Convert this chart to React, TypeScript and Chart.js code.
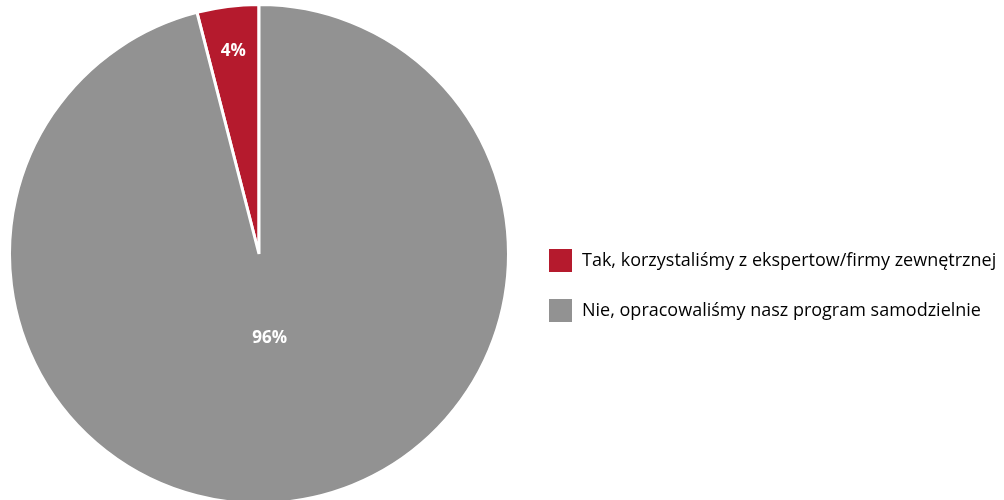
import React, { useEffect, useRef } from "react";
import { Chart, registerables } from "chart.js";

Chart.register(...registerables);

const categories = [
  "Tak, korzystaliśmy z ekspertow/firmy zewnętrznej",
  "Nie, opracowaliśmy nasz program samodzielnie",
];
const values = [4, 96];
const valueLabels = ["4%", "96%"];
const colors = ["#B51A2D", "#929292"];
const labelRadiusFractions = [0.82, 0.34];

const FONT = "'Open Sans', 'DejaVu Sans', sans-serif";

const labelPlugin = {
  id: "sliceLabels",
  afterDatasetsDraw(chart: any) {
    const ctx = chart.ctx;
    const meta = chart.getDatasetMeta(0);
    ctx.save();
    ctx.fillStyle = "#ffffff";
    ctx.font = `bold 17px ${FONT}`;
    ctx.textAlign = "center";
    ctx.textBaseline = "middle";
    meta.data.forEach((arc: any, i: number) => {
      const { x, y, startAngle, endAngle, outerRadius } = arc.getProps(
        ["x", "y", "startAngle", "endAngle", "outerRadius"],
        true
      );
      const mid = (startAngle + endAngle) / 2;
      const r = outerRadius * labelRadiusFractions[i];
      ctx.fillText(valueLabels[i], x + Math.cos(mid) * r, y + Math.sin(mid) * r);
    });
    ctx.restore();
  },
};

const legendPlugin = {
  id: "sideLegend",
  afterDraw(chart: any) {
    const ctx = chart.ctx;
    const boxX = 549;
    const boxSize = 23;
    const rowTops = [249, 299];
    ctx.save();
    ctx.font = `18px ${FONT}`;
    ctx.textBaseline = "middle";
    ctx.textAlign = "left";
    categories.forEach((c, i) => {
      ctx.fillStyle = colors[i];
      ctx.fillRect(boxX, rowTops[i], boxSize, boxSize);
      ctx.fillStyle = "#000000";
      ctx.fillText(c, boxX + boxSize + 10, rowTops[i] + boxSize / 2);
    });
    ctx.restore();
  },
};

export default function App() {
  const ref = useRef<HTMLCanvasElement | null>(null);
  useEffect(() => {
    if (!ref.current) return;
    const chart = new Chart(ref.current, {
      type: "pie",
      data: {
        labels: categories,
        datasets: [
          {
            data: values,
            backgroundColor: colors,
            borderColor: "#ffffff",
            borderWidth: 3,
          },
        ],
      },
      options: {
        responsive: false,
        maintainAspectRatio: false,
        animation: false,
        rotation: -(values[0] / (values[0] + values[1])) * 360,
        layout: { padding: { top: 3, bottom: 3, left: 8, right: 494 } },
        plugins: {
          legend: { display: false },
          tooltip: { enabled: false },
        },
      },
      plugins: [labelPlugin, legendPlugin],
    });
    return () => chart.destroy();
  }, []);
  return (
    <div style={{ position: "absolute", left: 0, top: 0, width: 1004, height: 508 }}>
      <canvas ref={ref} width={1004} height={508} style={{ display: "block" }} />
    </div>
  );
}
